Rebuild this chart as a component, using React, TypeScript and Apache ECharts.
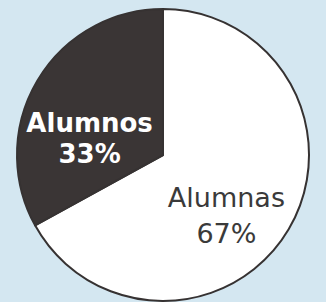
import React, { useEffect, useRef } from "react";
import * as echarts from "echarts";

const categories = ["Alumnas", "Alumnos"];
const values = [67, 33];
const sliceColors = ["#ffffff", "#3a3535"];
const labelColors = ["#3a3a3a", "#ffffff"];
const labelWeights = ["normal", "bold"];
const labelOffsets = [[-2, 22], [-8, 22]];

export default function App() {
  const ref = useRef<HTMLDivElement>(null);
  useEffect(() => {
    document.body.style.margin = "0";
    const chart = echarts.init(ref.current!, null, { renderer: "svg" });
    chart.setOption({
      animation: false,
      backgroundColor: "#d4e7f1",
      series: [
        {
          type: "pie",
          center: [163, 155],
          radius: 146,
          startAngle: 90,
          clockwise: true,
          silent: true,
          labelLine: { show: false },
          data: categories.map((name, i) => ({
            name,
            value: values[i],
            itemStyle: {
              color: sliceColors[i],
              borderColor: "#363232",
              borderWidth: 2,
            },
            label: {
              show: true,
              position: "inside",
              offset: labelOffsets[i],
              formatter: "{b}\n{d}%",
              color: labelColors[i],
              fontFamily: "DejaVu Sans",
              fontWeight: labelWeights[i],
              fontSize: i === 0 ? 27 : 26,
              lineHeight: i === 0 ? 36 : 31,
              align: "center",
            },
          })),
        },
      ],
    });
    return () => chart.dispose();
  }, []);
  return <div ref={ref} style={{ width: 326, height: 302 }} />;
}
